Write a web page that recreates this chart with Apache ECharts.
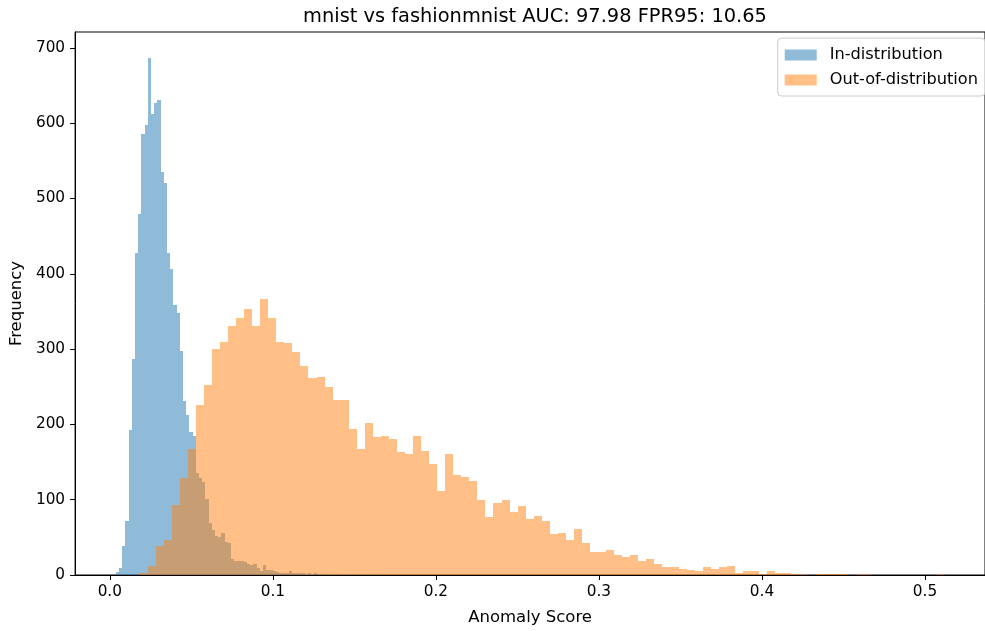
<!DOCTYPE html>
<html><head><meta charset="utf-8">
<script src="https://cdn.jsdelivr.net/npm/echarts@6/dist/echarts.min.js"></script>
<style>html,body{margin:0;padding:0;background:#fff}#c{width:985px;height:631px}</style>
</head><body><div id="c"></div>
<script>
const titleText = 'mnist vs fashionmnist AUC: 97.98 FPR95: 10.65';
const seriesNames = ['In-distribution', 'Out-of-distribution'];
const xAxisName = 'Anomaly Score';
const yAxisName = 'Frequency';

// In-distribution histogram (bin start, bin width, counts)
const inStart = 0.00365;
const inBinWidth = 0.001963;
const inCounts = [4, 9, 39, 72, 193, 287, 428, 479, 585, 597, 686, 612, 627, 631, 535, 521, 428, 406, 359, 348,
  298, 231, 213, 190, 184, 136, 129, 124, 101, 69, 60, 52, 50, 56, 44, 42, 21, 18, 19, 18,
  17, 15, 13, 14, 9, 5, 13, 7, 7, 5, 4, 3, 2, 2, 5, 2, 2, 2, 3, 1,
  2, 1, 2, 1, 1, 1, 1, 0, 1, 1, 0, 0, 1, 0, 0, 0, 0, 1, 0, 1];

// Out-of-distribution histogram
const oodStart = 0.01824;
const oodBinWidth = 0.004934;
const oodCounts = [2, 12, 38, 47, 93, 129, 167, 226, 252, 300,
  309, 330, 341, 353, 331, 366, 341, 309, 308, 296,
  277, 261, 263, 250, 232, 233, 194, 167, 202, 183,
  184, 180, 163, 161, 184, 164, 147, 111, 161, 133,
  130, 125, 99, 77, 96, 99, 84, 91, 74, 78,
  72, 55, 56, 46, 61, 43, 30, 30, 33, 27,
  24, 27, 19, 21, 14, 10, 10, 8, 6, 5,
  10, 8, 10, 12, 3, 5, 5, 1, 5, 2,
  2, 1, 1, 0, 1, 1, 1, 1, 0, 1,
  1, 0, 0, 0, 0, 0, 0, 0, 0, 1];

const xTicks = [0.0, 0.1, 0.2, 0.3, 0.4, 0.5];
const yTicks = [0, 100, 200, 300, 400, 500, 600, 700];

function toBins(start, w, counts) {
  return counts.map((c, i) => [start + i * w, start + (i + 1) * w, c]);
}

const FONT = 'DejaVu Sans';
const chart = echarts.init(document.getElementById('c'), null, {renderer: 'canvas'});

function renderBar(params, api) {
  const p0 = api.coord([api.value(0), api.value(2)]);
  const p1 = api.coord([api.value(1), 0]);
  const x0 = Math.round(p0[0]), x1 = Math.round(p1[0]);
  const y0 = Math.round(p0[1]), y1 = Math.round(p1[1]);
  return {
    type: 'rect',
    shape: {x: x0, y: y0, width: x1 - x0, height: y1 - y0},
    style: {fill: api.visual('color')}
  };
}

const axisCommon = {
  axisLine: {show: true, onZero: false, lineStyle: {color: '#000', width: 1}},
  axisTick: {show: true, length: 5, lineStyle: {color: '#000', width: 1}},
  splitLine: {show: false},
  nameTextStyle: {fontFamily: FONT, fontSize: 16.5, color: '#000'},
  z: 10
};

chart.setOption({
  animation: false,
  backgroundColor: '#fff',
  title: {
    text: titleText,
    left: 530, top: 2, textAlign: 'center',
    textStyle: {fontFamily: FONT, fontSize: 19.4, fontWeight: 'normal', color: '#000'}
  },
  legend: {
    orient: 'vertical',
    right: 0, top: 38,
    icon: 'rect',
    itemWidth: 32, itemHeight: 11, itemGap: 7,
    padding: [8, 7, 7, 7],
    backgroundColor: 'rgba(255,255,255,0.8)',
    borderColor: '#cccccc', borderWidth: 1, borderRadius: 4,
    textStyle: {fontFamily: FONT, fontSize: 16.2, lineHeight: 18, color: '#000', padding: [0, 0, 0, 8]},
    data: seriesNames
  },
  grid: {left: 75, top: 32, width: 918, height: 548, show: true, borderColor: '#000', borderWidth: 1, backgroundColor: 'transparent'},
  xAxis: Object.assign({}, axisCommon, {
    type: 'value',
    min: -0.02128, max: 0.5368,
    name: xAxisName, nameLocation: 'middle', nameGap: 34,
    axisTick: Object.assign({}, axisCommon.axisTick, {customValues: xTicks}),
    axisLabel: {customValues: xTicks, formatter: v => v.toFixed(1), margin: 10, fontFamily: FONT, fontSize: 15.3, color: '#000'}
  }),
  yAxis: Object.assign({}, axisCommon, {
    type: 'value',
    min: 0, max: 721,
    name: yAxisName, nameLocation: 'middle', nameGap: 49, nameRotate: 90,
    axisTick: Object.assign({}, axisCommon.axisTick, {customValues: yTicks}),
    axisLabel: {customValues: yTicks, margin: 10, fontFamily: FONT, fontSize: 15.3, color: '#000'}
  }),
  series: [
    {
      name: seriesNames[0], type: 'custom', renderItem: renderBar,
      itemStyle: {color: 'rgba(31,119,180,0.5)'},
      encode: {x: [0, 1], y: 2},
      data: toBins(inStart, inBinWidth, inCounts), z: 2
    },
    {
      name: seriesNames[1], type: 'custom', renderItem: renderBar,
      itemStyle: {color: 'rgba(255,127,14,0.5)'},
      encode: {x: [0, 1], y: 2},
      data: toBins(oodStart, oodBinWidth, oodCounts), z: 3
    }
  ]
});
</script>
</body></html>
